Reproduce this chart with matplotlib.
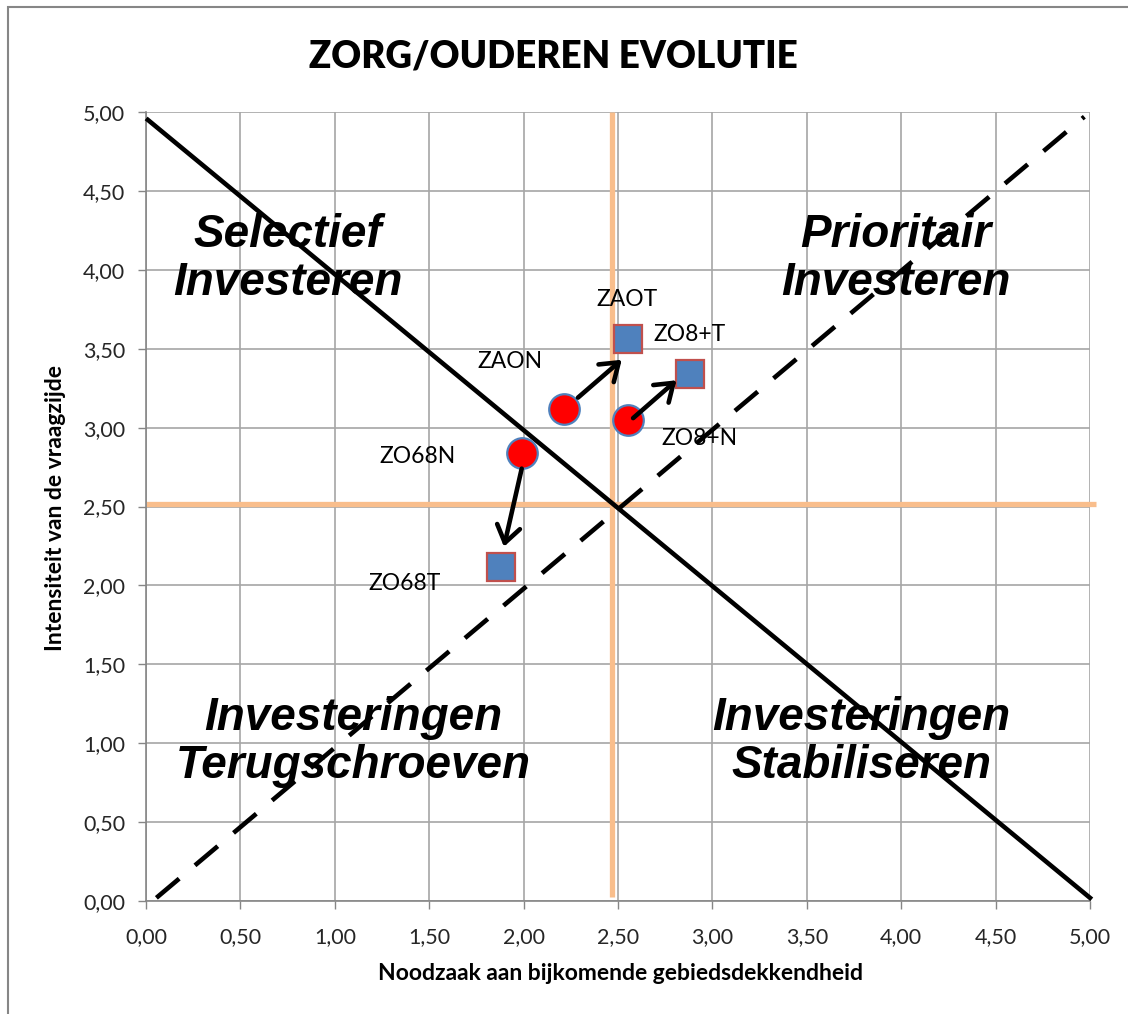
import matplotlib
matplotlib.use("Agg")
import matplotlib.pyplot as plt
from matplotlib.patches import Rectangle, ArrowStyle

# ---- data ----
title = "ZORG/OUDEREN EVOLUTIE"
xlabel = "Noodzaak aan bijkomende gebiedsdekkendheid"
ylabel = "Intensiteit van de vraagzijde"

ticks = [0.0, 0.5, 1.0, 1.5, 2.0, 2.5, 3.0, 3.5, 4.0, 4.5, 5.0]
tick_labels = ["0,00", "0,50", "1,00", "1,50", "2,00", "2,50", "3,00", "3,50", "4,00", "4,50", "5,00"]

# circles (N) and squares (T)
labels_N = ["ZAON", "ZO8+N", "ZO68N"]
xN = [2.215, 2.555, 1.99]
yN = [3.12, 3.05, 2.84]
labels_T = ["ZAOT", "ZO8+T", "ZO68T"]
xT = [2.555, 2.88, 1.88]
yT = [3.56, 3.34, 2.115]

# label positions
lab_N_x = [1.93, 2.93, 1.44]
lab_N_y = [3.42, 2.93, 2.82]
lab_T_x = [2.546, 2.88, 1.37]
lab_T_y = [3.81, 3.59, 2.01]

# arrows N -> T
arr_x0 = [2.288, 2.58, 1.99]
arr_y0 = [3.19, 3.06, 2.74]
arr_x1 = [2.52, 2.81, 1.896]
arr_y1 = [3.43, 3.30, 2.245]

# reference lines
solid_x = [0.01, 5.0]
solid_y = [4.95, 0.02]
dashed_x = [0.055, 4.97]
dashed_y = [0.02, 4.97]
vline_x = [2.47, 2.47]
vline_y = [0.025, 5.0]
hline_x = [0.0, 5.03]
hline_y = [2.515, 2.515]

# quadrant texts
quad_text = ["Selectief\nInvesteren", "Prioritair\nInvesteren",
             "Investeringen\nTerugschroeven", "Investeringen\nStabiliseren"]
quad_x = [0.75, 3.97, 1.10, 3.79]
quad_y = [4.07, 4.07, 1.01, 1.01]

# ---- plot ----
W, H = 1128, 1014
fig = plt.figure(figsize=(W / 100, H / 100), dpi=100)
fig.patch.set_facecolor("white")
ax = fig.add_axes([146 / W, 1 - 901 / H, (1090 - 146) / W, (901 - 112) / H])

ax.set_xlim(0, 5)
ax.set_ylim(0, 5)
ax.set_xticks(ticks)
ax.set_yticks(ticks)
ax.set_xticklabels(tick_labels, fontfamily="Lato", fontsize=15.5, color="#262626")
ax.set_yticklabels(tick_labels, fontfamily="Lato", fontsize=15.5, color="#262626")
ax.tick_params(axis="x", direction="out", length=6, width=1, color="#868686", pad=13)
ax.tick_params(axis="y", direction="out", length=6, width=1, color="#868686", pad=9)
ax.grid(True, color="#A6A6A6", lw=1.2)
ax.set_axisbelow(True)
for s in ["top", "right"]:
    ax.spines[s].set_visible(False)
for s in ["left", "bottom"]:
    ax.spines[s].set_color("#868686")
    ax.spines[s].set_linewidth(1.2)

# orange quadrant lines
ax.plot(vline_x, vline_y, color="#F9BE8C", lw=3.8, solid_capstyle="butt", zorder=2, clip_on=False)
ax.plot(hline_x, hline_y, color="#F9BE8C", lw=3.8, solid_capstyle="butt", zorder=2, clip_on=False)

# black diagonals
ax.plot(solid_x, solid_y, color="black", lw=3.3, zorder=3, clip_on=False)
ax.plot(dashed_x, dashed_y, color="black", lw=3.3, zorder=3, dashes=(6.5, 4.5), clip_on=False)

# quadrant texts
for t, x, y in zip(quad_text, quad_x, quad_y):
    ax.text(x, y, t, ha="center", va="center", fontfamily="Liberation Sans",
            fontweight="bold", fontstyle="italic", fontsize=33, linespacing=1.12, zorder=2.5)

# arrows
style = ArrowStyle("->", head_length=0.6, head_width=0.42)
for x0, y0, x1, y1 in zip(arr_x0, arr_y0, arr_x1, arr_y1):
    ax.annotate("", xy=(x1, y1), xytext=(x0, y0),
                arrowprops=dict(arrowstyle=style, lw=3.3, color="black",
                                mutation_scale=20, shrinkA=0, shrinkB=0),
                zorder=6)

# markers
ax.plot(xN, yN, ls="none", marker="o", ms=22, mfc="#FF0000", mec="#4F81BD", mew=1.6, zorder=5)
ax.plot(xT, yT, ls="none", marker="s", ms=20, mfc="#4F81BD", mec="#C0504D", mew=1.6, zorder=5)

# labels
for t, x, y in zip(labels_N, lab_N_x, lab_N_y):
    ax.text(x, y, t, ha="center", va="center", fontfamily="Lato", fontsize=16.5, zorder=4)
for t, x, y in zip(labels_T, lab_T_x, lab_T_y):
    ax.text(x, y, t, ha="center", va="center", fontfamily="Lato", fontsize=16.5, zorder=4)

# title and axis labels
fig.text(553 / W, 1 - 56 / H, title, ha="center", va="center", fontfamily="Lato",
         fontweight="heavy", fontsize=26.5)
fig.text(620 / W, 1 - 973 / H, xlabel, ha="center", va="center", fontfamily="Lato",
         fontweight="bold", fontsize=16.5)
fig.text(55 / W, 1 - 508 / H, ylabel, ha="center", va="center", rotation=90,
         fontfamily="Lato", fontweight="bold", fontsize=16.5)

# outer chart border
fig.patches.append(Rectangle((8 / W, -0.05), 1.2, (1 - 7 / H) + 0.05, transform=fig.transFigure,
                             fill=False, ec="#868686", lw=1.5, figure=fig))

fig.savefig("out.png", dpi=100, facecolor="white")
